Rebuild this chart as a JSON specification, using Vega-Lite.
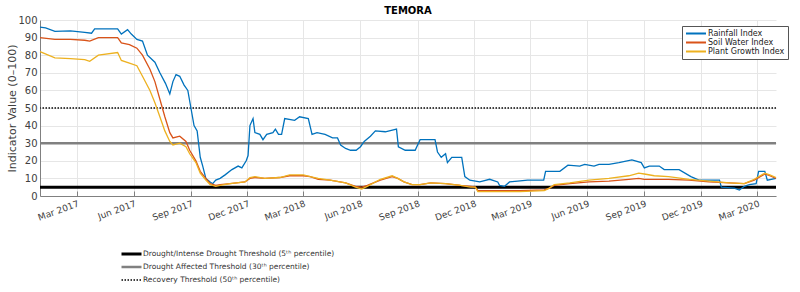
{
  "$schema": "https://vega.github.io/schema/vega-lite/v6.json",
  "width": 736,
  "height": 176,
  "autosize": {"type": "none"},
  "padding": {"left": 40, "top": 20, "right": 24, "bottom": 96},
  "background": "white",
  "title": {"text": "TEMORA", "fontSize": 10, "fontWeight": "bold", "font": "DejaVu Sans", "color": "#000", "offset": -1},
  "config": {
    "view": {"stroke": null},
    "font": "DejaVu Sans",
    "axis": {"labelFont": "DejaVu Sans", "titleFont": "DejaVu Sans", "labelColor": "#404040", "titleColor": "#404040", "domainColor": "#808080", "tickColor": "#808080", "gridColor": "#e6e6e6", "grid": true}
  },
  "datasets": {
    "idx": [
      {"d": "2017-01-01", "s": "Rainfall Index", "v": 96},
      {"d": "2017-01-10", "s": "Rainfall Index", "v": 95.5},
      {"d": "2017-01-25", "s": "Rainfall Index", "v": 93.5},
      {"d": "2017-02-19", "s": "Rainfall Index", "v": 93.8},
      {"d": "2017-03-14", "s": "Rainfall Index", "v": 93},
      {"d": "2017-03-25", "s": "Rainfall Index", "v": 92.5},
      {"d": "2017-03-30", "s": "Rainfall Index", "v": 95},
      {"d": "2017-05-06", "s": "Rainfall Index", "v": 95},
      {"d": "2017-05-12", "s": "Rainfall Index", "v": 92},
      {"d": "2017-05-22", "s": "Rainfall Index", "v": 94.5},
      {"d": "2017-05-28", "s": "Rainfall Index", "v": 92},
      {"d": "2017-06-06", "s": "Rainfall Index", "v": 89},
      {"d": "2017-06-15", "s": "Rainfall Index", "v": 88},
      {"d": "2017-06-23", "s": "Rainfall Index", "v": 80},
      {"d": "2017-07-05", "s": "Rainfall Index", "v": 76},
      {"d": "2017-07-13", "s": "Rainfall Index", "v": 70},
      {"d": "2017-07-22", "s": "Rainfall Index", "v": 64},
      {"d": "2017-07-29", "s": "Rainfall Index", "v": 58},
      {"d": "2017-08-03", "s": "Rainfall Index", "v": 65},
      {"d": "2017-08-08", "s": "Rainfall Index", "v": 69},
      {"d": "2017-08-14", "s": "Rainfall Index", "v": 68},
      {"d": "2017-08-21", "s": "Rainfall Index", "v": 63},
      {"d": "2017-08-27", "s": "Rainfall Index", "v": 60},
      {"d": "2017-09-01", "s": "Rainfall Index", "v": 50},
      {"d": "2017-09-06", "s": "Rainfall Index", "v": 40},
      {"d": "2017-09-11", "s": "Rainfall Index", "v": 37},
      {"d": "2017-09-16", "s": "Rainfall Index", "v": 22},
      {"d": "2017-09-20", "s": "Rainfall Index", "v": 17},
      {"d": "2017-09-25", "s": "Rainfall Index", "v": 10},
      {"d": "2017-10-02", "s": "Rainfall Index", "v": 8},
      {"d": "2017-10-06", "s": "Rainfall Index", "v": 7},
      {"d": "2017-10-11", "s": "Rainfall Index", "v": 9},
      {"d": "2017-10-18", "s": "Rainfall Index", "v": 10},
      {"d": "2017-10-26", "s": "Rainfall Index", "v": 12},
      {"d": "2017-11-06", "s": "Rainfall Index", "v": 15},
      {"d": "2017-11-16", "s": "Rainfall Index", "v": 17},
      {"d": "2017-11-22", "s": "Rainfall Index", "v": 16},
      {"d": "2017-11-29", "s": "Rainfall Index", "v": 20},
      {"d": "2017-12-02", "s": "Rainfall Index", "v": 23},
      {"d": "2017-12-05", "s": "Rainfall Index", "v": 40},
      {"d": "2017-12-10", "s": "Rainfall Index", "v": 44},
      {"d": "2017-12-13", "s": "Rainfall Index", "v": 36},
      {"d": "2017-12-21", "s": "Rainfall Index", "v": 35},
      {"d": "2017-12-26", "s": "Rainfall Index", "v": 32},
      {"d": "2018-01-01", "s": "Rainfall Index", "v": 35},
      {"d": "2018-01-11", "s": "Rainfall Index", "v": 36},
      {"d": "2018-01-15", "s": "Rainfall Index", "v": 38},
      {"d": "2018-01-20", "s": "Rainfall Index", "v": 35},
      {"d": "2018-01-25", "s": "Rainfall Index", "v": 35},
      {"d": "2018-01-30", "s": "Rainfall Index", "v": 44},
      {"d": "2018-02-15", "s": "Rainfall Index", "v": 43},
      {"d": "2018-02-23", "s": "Rainfall Index", "v": 45},
      {"d": "2018-03-09", "s": "Rainfall Index", "v": 44},
      {"d": "2018-03-15", "s": "Rainfall Index", "v": 35},
      {"d": "2018-03-23", "s": "Rainfall Index", "v": 36},
      {"d": "2018-04-05", "s": "Rainfall Index", "v": 35},
      {"d": "2018-04-17", "s": "Rainfall Index", "v": 33},
      {"d": "2018-04-25", "s": "Rainfall Index", "v": 33},
      {"d": "2018-04-30", "s": "Rainfall Index", "v": 29},
      {"d": "2018-05-08", "s": "Rainfall Index", "v": 27},
      {"d": "2018-05-16", "s": "Rainfall Index", "v": 26},
      {"d": "2018-05-25", "s": "Rainfall Index", "v": 26},
      {"d": "2018-06-01", "s": "Rainfall Index", "v": 28},
      {"d": "2018-06-07", "s": "Rainfall Index", "v": 31},
      {"d": "2018-06-17", "s": "Rainfall Index", "v": 34},
      {"d": "2018-06-25", "s": "Rainfall Index", "v": 37},
      {"d": "2018-07-11", "s": "Rainfall Index", "v": 36.5},
      {"d": "2018-07-29", "s": "Rainfall Index", "v": 38},
      {"d": "2018-08-01", "s": "Rainfall Index", "v": 28},
      {"d": "2018-08-12", "s": "Rainfall Index", "v": 26},
      {"d": "2018-08-28", "s": "Rainfall Index", "v": 26},
      {"d": "2018-09-05", "s": "Rainfall Index", "v": 32},
      {"d": "2018-09-29", "s": "Rainfall Index", "v": 32},
      {"d": "2018-10-03", "s": "Rainfall Index", "v": 25},
      {"d": "2018-10-09", "s": "Rainfall Index", "v": 22},
      {"d": "2018-10-16", "s": "Rainfall Index", "v": 24},
      {"d": "2018-10-19", "s": "Rainfall Index", "v": 19},
      {"d": "2018-10-26", "s": "Rainfall Index", "v": 22},
      {"d": "2018-11-11", "s": "Rainfall Index", "v": 22},
      {"d": "2018-11-16", "s": "Rainfall Index", "v": 11},
      {"d": "2018-11-24", "s": "Rainfall Index", "v": 9},
      {"d": "2018-12-10", "s": "Rainfall Index", "v": 8},
      {"d": "2018-12-26", "s": "Rainfall Index", "v": 9.5},
      {"d": "2019-01-08", "s": "Rainfall Index", "v": 8},
      {"d": "2019-01-11", "s": "Rainfall Index", "v": 6},
      {"d": "2019-01-19", "s": "Rainfall Index", "v": 5.5},
      {"d": "2019-01-27", "s": "Rainfall Index", "v": 8},
      {"d": "2019-02-09", "s": "Rainfall Index", "v": 8.5},
      {"d": "2019-02-25", "s": "Rainfall Index", "v": 9},
      {"d": "2019-03-23", "s": "Rainfall Index", "v": 9},
      {"d": "2019-03-26", "s": "Rainfall Index", "v": 14},
      {"d": "2019-04-18", "s": "Rainfall Index", "v": 14},
      {"d": "2019-05-01", "s": "Rainfall Index", "v": 17.5},
      {"d": "2019-05-20", "s": "Rainfall Index", "v": 17},
      {"d": "2019-05-28", "s": "Rainfall Index", "v": 18},
      {"d": "2019-06-12", "s": "Rainfall Index", "v": 17},
      {"d": "2019-06-20", "s": "Rainfall Index", "v": 18},
      {"d": "2019-07-06", "s": "Rainfall Index", "v": 18},
      {"d": "2019-07-22", "s": "Rainfall Index", "v": 19},
      {"d": "2019-08-12", "s": "Rainfall Index", "v": 20.5},
      {"d": "2019-08-27", "s": "Rainfall Index", "v": 19},
      {"d": "2019-09-01", "s": "Rainfall Index", "v": 16},
      {"d": "2019-09-09", "s": "Rainfall Index", "v": 17},
      {"d": "2019-09-25", "s": "Rainfall Index", "v": 17},
      {"d": "2019-10-03", "s": "Rainfall Index", "v": 15},
      {"d": "2019-10-27", "s": "Rainfall Index", "v": 15},
      {"d": "2019-11-15", "s": "Rainfall Index", "v": 11},
      {"d": "2019-11-28", "s": "Rainfall Index", "v": 9},
      {"d": "2019-12-31", "s": "Rainfall Index", "v": 9},
      {"d": "2020-01-03", "s": "Rainfall Index", "v": 5},
      {"d": "2020-01-24", "s": "Rainfall Index", "v": 4.5},
      {"d": "2020-02-01", "s": "Rainfall Index", "v": 3.4},
      {"d": "2020-02-09", "s": "Rainfall Index", "v": 5.5},
      {"d": "2020-02-17", "s": "Rainfall Index", "v": 6.5},
      {"d": "2020-02-28", "s": "Rainfall Index", "v": 7},
      {"d": "2020-03-03", "s": "Rainfall Index", "v": 14},
      {"d": "2020-03-13", "s": "Rainfall Index", "v": 14},
      {"d": "2020-03-17", "s": "Rainfall Index", "v": 9},
      {"d": "2020-03-31", "s": "Rainfall Index", "v": 10},

      {"d": "2017-01-01", "s": "Soil Water Index", "v": 90},
      {"d": "2017-01-25", "s": "Soil Water Index", "v": 89},
      {"d": "2017-02-19", "s": "Soil Water Index", "v": 89},
      {"d": "2017-03-14", "s": "Soil Water Index", "v": 88.5},
      {"d": "2017-03-22", "s": "Soil Water Index", "v": 88},
      {"d": "2017-04-05", "s": "Soil Water Index", "v": 90},
      {"d": "2017-05-06", "s": "Soil Water Index", "v": 90},
      {"d": "2017-05-12", "s": "Soil Water Index", "v": 87},
      {"d": "2017-05-25", "s": "Soil Water Index", "v": 86},
      {"d": "2017-06-06", "s": "Soil Water Index", "v": 84},
      {"d": "2017-06-15", "s": "Soil Water Index", "v": 80},
      {"d": "2017-06-27", "s": "Soil Water Index", "v": 72},
      {"d": "2017-07-05", "s": "Soil Water Index", "v": 65},
      {"d": "2017-07-13", "s": "Soil Water Index", "v": 55},
      {"d": "2017-07-21", "s": "Soil Water Index", "v": 45},
      {"d": "2017-07-29", "s": "Soil Water Index", "v": 36},
      {"d": "2017-08-03", "s": "Soil Water Index", "v": 33},
      {"d": "2017-08-14", "s": "Soil Water Index", "v": 34},
      {"d": "2017-08-24", "s": "Soil Water Index", "v": 31},
      {"d": "2017-08-30", "s": "Soil Water Index", "v": 26},
      {"d": "2017-09-09", "s": "Soil Water Index", "v": 20},
      {"d": "2017-09-16", "s": "Soil Water Index", "v": 14},
      {"d": "2017-09-25", "s": "Soil Water Index", "v": 10},
      {"d": "2017-10-02", "s": "Soil Water Index", "v": 7},
      {"d": "2017-10-11", "s": "Soil Water Index", "v": 6},
      {"d": "2017-10-18", "s": "Soil Water Index", "v": 6.5},
      {"d": "2017-11-03", "s": "Soil Water Index", "v": 7},
      {"d": "2017-11-27", "s": "Soil Water Index", "v": 8},
      {"d": "2017-12-05", "s": "Soil Water Index", "v": 10},
      {"d": "2017-12-13", "s": "Soil Water Index", "v": 10.5},
      {"d": "2017-12-29", "s": "Soil Water Index", "v": 10},
      {"d": "2018-01-22", "s": "Soil Water Index", "v": 10.5},
      {"d": "2018-02-07", "s": "Soil Water Index", "v": 11.5},
      {"d": "2018-03-01", "s": "Soil Water Index", "v": 11.5},
      {"d": "2018-03-12", "s": "Soil Water Index", "v": 11},
      {"d": "2018-03-25", "s": "Soil Water Index", "v": 9.5},
      {"d": "2018-04-13", "s": "Soil Water Index", "v": 9},
      {"d": "2018-05-08", "s": "Soil Water Index", "v": 7.5},
      {"d": "2018-05-24", "s": "Soil Water Index", "v": 5.5},
      {"d": "2018-06-03", "s": "Soil Water Index", "v": 5},
      {"d": "2018-06-12", "s": "Soil Water Index", "v": 6},
      {"d": "2018-07-03", "s": "Soil Water Index", "v": 9},
      {"d": "2018-07-22", "s": "Soil Water Index", "v": 11},
      {"d": "2018-07-31", "s": "Soil Water Index", "v": 10},
      {"d": "2018-08-10", "s": "Soil Water Index", "v": 8},
      {"d": "2018-08-23", "s": "Soil Water Index", "v": 6.5},
      {"d": "2018-09-05", "s": "Soil Water Index", "v": 6.5},
      {"d": "2018-09-22", "s": "Soil Water Index", "v": 7.5},
      {"d": "2018-10-16", "s": "Soil Water Index", "v": 7},
      {"d": "2018-11-09", "s": "Soil Water Index", "v": 6},
      {"d": "2018-11-25", "s": "Soil Water Index", "v": 5.5},
      {"d": "2018-12-03", "s": "Soil Water Index", "v": 5},
      {"d": "2018-12-07", "s": "Soil Water Index", "v": 3},
      {"d": "2019-02-13", "s": "Soil Water Index", "v": 3},
      {"d": "2019-03-24", "s": "Soil Water Index", "v": 3.5},
      {"d": "2019-04-01", "s": "Soil Water Index", "v": 4.5},
      {"d": "2019-04-09", "s": "Soil Water Index", "v": 6},
      {"d": "2019-05-04", "s": "Soil Water Index", "v": 7},
      {"d": "2019-06-04", "s": "Soil Water Index", "v": 8},
      {"d": "2019-07-06", "s": "Soil Water Index", "v": 8.5},
      {"d": "2019-08-07", "s": "Soil Water Index", "v": 9.5},
      {"d": "2019-08-23", "s": "Soil Water Index", "v": 10},
      {"d": "2019-09-01", "s": "Soil Water Index", "v": 9.5},
      {"d": "2019-09-17", "s": "Soil Water Index", "v": 9.5},
      {"d": "2019-10-10", "s": "Soil Water Index", "v": 9.5},
      {"d": "2019-11-12", "s": "Soil Water Index", "v": 9},
      {"d": "2019-12-14", "s": "Soil Water Index", "v": 8},
      {"d": "2020-01-16", "s": "Soil Water Index", "v": 7.5},
      {"d": "2020-02-09", "s": "Soil Water Index", "v": 7},
      {"d": "2020-02-25", "s": "Soil Water Index", "v": 9},
      {"d": "2020-03-13", "s": "Soil Water Index", "v": 12.5},
      {"d": "2020-03-21", "s": "Soil Water Index", "v": 11.5},
      {"d": "2020-03-31", "s": "Soil Water Index", "v": 10},

      {"d": "2017-01-01", "s": "Plant Growth Index", "v": 82},
      {"d": "2017-01-25", "s": "Plant Growth Index", "v": 78.5},
      {"d": "2017-02-19", "s": "Plant Growth Index", "v": 78},
      {"d": "2017-03-14", "s": "Plant Growth Index", "v": 77.5},
      {"d": "2017-03-22", "s": "Plant Growth Index", "v": 76.5},
      {"d": "2017-04-05", "s": "Plant Growth Index", "v": 80},
      {"d": "2017-05-06", "s": "Plant Growth Index", "v": 81.5},
      {"d": "2017-05-12", "s": "Plant Growth Index", "v": 77},
      {"d": "2017-05-25", "s": "Plant Growth Index", "v": 75.5},
      {"d": "2017-06-06", "s": "Plant Growth Index", "v": 74},
      {"d": "2017-06-15", "s": "Plant Growth Index", "v": 68},
      {"d": "2017-06-27", "s": "Plant Growth Index", "v": 60},
      {"d": "2017-07-05", "s": "Plant Growth Index", "v": 53},
      {"d": "2017-07-13", "s": "Plant Growth Index", "v": 45},
      {"d": "2017-07-21", "s": "Plant Growth Index", "v": 37},
      {"d": "2017-07-29", "s": "Plant Growth Index", "v": 31},
      {"d": "2017-08-03", "s": "Plant Growth Index", "v": 29},
      {"d": "2017-08-14", "s": "Plant Growth Index", "v": 30},
      {"d": "2017-08-24", "s": "Plant Growth Index", "v": 28},
      {"d": "2017-08-30", "s": "Plant Growth Index", "v": 24},
      {"d": "2017-09-09", "s": "Plant Growth Index", "v": 19},
      {"d": "2017-09-16", "s": "Plant Growth Index", "v": 13},
      {"d": "2017-09-25", "s": "Plant Growth Index", "v": 9},
      {"d": "2017-10-02", "s": "Plant Growth Index", "v": 6.5},
      {"d": "2017-10-11", "s": "Plant Growth Index", "v": 5.5},
      {"d": "2017-10-18", "s": "Plant Growth Index", "v": 6},
      {"d": "2017-11-03", "s": "Plant Growth Index", "v": 7},
      {"d": "2017-11-27", "s": "Plant Growth Index", "v": 8},
      {"d": "2017-12-05", "s": "Plant Growth Index", "v": 10.5},
      {"d": "2017-12-13", "s": "Plant Growth Index", "v": 11},
      {"d": "2017-12-29", "s": "Plant Growth Index", "v": 10},
      {"d": "2018-01-22", "s": "Plant Growth Index", "v": 10.5},
      {"d": "2018-02-07", "s": "Plant Growth Index", "v": 12},
      {"d": "2018-03-01", "s": "Plant Growth Index", "v": 12},
      {"d": "2018-03-12", "s": "Plant Growth Index", "v": 11},
      {"d": "2018-03-25", "s": "Plant Growth Index", "v": 10},
      {"d": "2018-04-13", "s": "Plant Growth Index", "v": 9},
      {"d": "2018-05-08", "s": "Plant Growth Index", "v": 7.5},
      {"d": "2018-05-24", "s": "Plant Growth Index", "v": 5},
      {"d": "2018-06-03", "s": "Plant Growth Index", "v": 4},
      {"d": "2018-06-12", "s": "Plant Growth Index", "v": 5.5},
      {"d": "2018-07-03", "s": "Plant Growth Index", "v": 9.5},
      {"d": "2018-07-22", "s": "Plant Growth Index", "v": 11.5},
      {"d": "2018-07-31", "s": "Plant Growth Index", "v": 10},
      {"d": "2018-08-10", "s": "Plant Growth Index", "v": 8},
      {"d": "2018-08-23", "s": "Plant Growth Index", "v": 6.5},
      {"d": "2018-09-05", "s": "Plant Growth Index", "v": 6.5},
      {"d": "2018-09-22", "s": "Plant Growth Index", "v": 7.5},
      {"d": "2018-10-16", "s": "Plant Growth Index", "v": 7},
      {"d": "2018-11-09", "s": "Plant Growth Index", "v": 6},
      {"d": "2018-11-25", "s": "Plant Growth Index", "v": 5},
      {"d": "2018-12-03", "s": "Plant Growth Index", "v": 5},
      {"d": "2018-12-07", "s": "Plant Growth Index", "v": 2.5},
      {"d": "2019-02-13", "s": "Plant Growth Index", "v": 2.5},
      {"d": "2019-03-24", "s": "Plant Growth Index", "v": 3},
      {"d": "2019-04-01", "s": "Plant Growth Index", "v": 4.5},
      {"d": "2019-04-09", "s": "Plant Growth Index", "v": 6.5},
      {"d": "2019-05-04", "s": "Plant Growth Index", "v": 7.5},
      {"d": "2019-06-04", "s": "Plant Growth Index", "v": 9},
      {"d": "2019-07-06", "s": "Plant Growth Index", "v": 10},
      {"d": "2019-08-07", "s": "Plant Growth Index", "v": 11.5},
      {"d": "2019-08-23", "s": "Plant Growth Index", "v": 13},
      {"d": "2019-09-01", "s": "Plant Growth Index", "v": 12.5},
      {"d": "2019-09-17", "s": "Plant Growth Index", "v": 11.5},
      {"d": "2019-10-10", "s": "Plant Growth Index", "v": 11},
      {"d": "2019-11-12", "s": "Plant Growth Index", "v": 9.5},
      {"d": "2019-12-14", "s": "Plant Growth Index", "v": 8.5},
      {"d": "2020-01-16", "s": "Plant Growth Index", "v": 7.5},
      {"d": "2020-02-09", "s": "Plant Growth Index", "v": 7},
      {"d": "2020-02-25", "s": "Plant Growth Index", "v": 9.5},
      {"d": "2020-03-13", "s": "Plant Growth Index", "v": 13},
      {"d": "2020-03-21", "s": "Plant Growth Index", "v": 12},
      {"d": "2020-03-31", "s": "Plant Growth Index", "v": 10.5}
    ],
    "thr": [
      {"name": "Drought/Intense Drought Threshold (5ᵗʰ percentile)", "y": 5},
      {"name": "Drought Affected Threshold (30ᵗʰ percentile)", "y": 30},
      {"name": "Recovery Threshold (50ᵗʰ percentile)", "y": 50}
    ]
  },
  "layer": [
    {
      "data": {"name": "thr"},
      "mark": {"type": "rule"},
      "encoding": {
        "y": {
          "field": "y", "type": "quantitative", "scale": {"domain": [0, 100], "nice": false},
          "axis": {"title": "Indicator Value (0–100)", "titleFontSize": 11, "titleFontWeight": "normal", "labelFontSize": 10, "values": [0, 10, 20, 30, 40, 50, 60, 70, 80, 90, 100], "labelOverlap": false, "tickSize": 0, "labelPadding": 3, "titlePadding": 0, "grid": true}
        },
        "stroke": {
          "field": "name", "type": "nominal",
          "scale": {"domain": ["Drought/Intense Drought Threshold (5ᵗʰ percentile)", "Drought Affected Threshold (30ᵗʰ percentile)", "Recovery Threshold (50ᵗʰ percentile)"], "range": ["#000000", "#808080", "#404040"]},
          "legend": {"orient": "none", "legendX": 80, "legendY": 229, "title": null, "symbolType": "stroke", "symbolSize": 400, "clipHeight": 10, "labelFontSize": 7.5, "labelLimit": 400, "labelColor": "#333", "rowPadding": 3, "labelOffset": 0}
        },
        "strokeWidth": {
          "field": "name", "type": "nominal",
          "scale": {"domain": ["Drought/Intense Drought Threshold (5ᵗʰ percentile)", "Drought Affected Threshold (30ᵗʰ percentile)", "Recovery Threshold (50ᵗʰ percentile)"], "range": [3, 2, 1]},
          "legend": {"orient": "none", "legendX": 80, "legendY": 229, "title": null, "symbolType": "stroke", "symbolSize": 400, "clipHeight": 10, "labelFontSize": 7.5, "labelLimit": 400, "labelColor": "#333", "rowPadding": 3, "labelOffset": 0}
        },
        "strokeDash": {
          "field": "name", "type": "nominal",
          "scale": {"domain": ["Drought/Intense Drought Threshold (5ᵗʰ percentile)", "Drought Affected Threshold (30ᵗʰ percentile)", "Recovery Threshold (50ᵗʰ percentile)"], "range": [[1, 0], [1, 0], [1.5, 1.5]]},
          "legend": {"orient": "none", "legendX": 80, "legendY": 229, "title": null, "symbolType": "stroke", "symbolSize": 400, "clipHeight": 10, "labelFontSize": 7.5, "labelLimit": 400, "labelColor": "#333", "rowPadding": 3, "labelOffset": 0}
        }
      }
    },
    {
      "data": {"name": "idx"},
      "mark": {"type": "line", "strokeWidth": 1.3},
      "encoding": {
        "x": {
          "field": "d", "type": "temporal",
          "scale": {"type": "utc", "domain": [{"year": 2017, "month": 1, "date": 1, "utc": true}, {"year": 2020, "month": 3, "date": 31, "utc": true}]},
          "axis": {
            "title": null, "format": "%b %Y", "labelAngle": -20, "labelFontSize": 9, "tickSize": -5, "labelPadding": 8, "grid": true,
            "values": [
              {"year": 2017, "month": 3, "date": 1, "utc": true},
              {"year": 2017, "month": 6, "date": 1, "utc": true},
              {"year": 2017, "month": 9, "date": 1, "utc": true},
              {"year": 2017, "month": 12, "date": 1, "utc": true},
              {"year": 2018, "month": 3, "date": 1, "utc": true},
              {"year": 2018, "month": 6, "date": 1, "utc": true},
              {"year": 2018, "month": 9, "date": 1, "utc": true},
              {"year": 2018, "month": 12, "date": 1, "utc": true},
              {"year": 2019, "month": 3, "date": 1, "utc": true},
              {"year": 2019, "month": 6, "date": 1, "utc": true},
              {"year": 2019, "month": 9, "date": 1, "utc": true},
              {"year": 2019, "month": 12, "date": 1, "utc": true},
              {"year": 2020, "month": 3, "date": 1, "utc": true}
            ]
          }
        },
        "y": {
          "field": "v", "type": "quantitative",
          "scale": {"domain": [0, 100], "nice": false},
          "axis": {"title": "Indicator Value (0–100)", "titleFontSize": 11, "titleFontWeight": "normal", "labelFontSize": 10, "values": [0, 10, 20, 30, 40, 50, 60, 70, 80, 90, 100], "labelOverlap": false, "tickSize": 0, "labelPadding": 3, "titlePadding": 0, "grid": true}
        },
        "color": {
          "field": "s", "type": "nominal",
          "scale": {"domain": ["Rainfall Index", "Soil Water Index", "Plant Growth Index"], "range": ["#0072BD", "#D95319", "#EDB120"]},
          "legend": {"orient": "none", "legendX": 642, "legendY": 6, "title": null, "symbolType": "stroke", "symbolSize": 400, "symbolStrokeWidth": 2, "clipHeight": 9, "labelFontSize": 8, "labelColor": "#222", "strokeColor": "#555", "fillColor": "white", "padding": 3, "rowPadding": 0, "labelOffset": 1}
        }
      }
    }
  ]
}
